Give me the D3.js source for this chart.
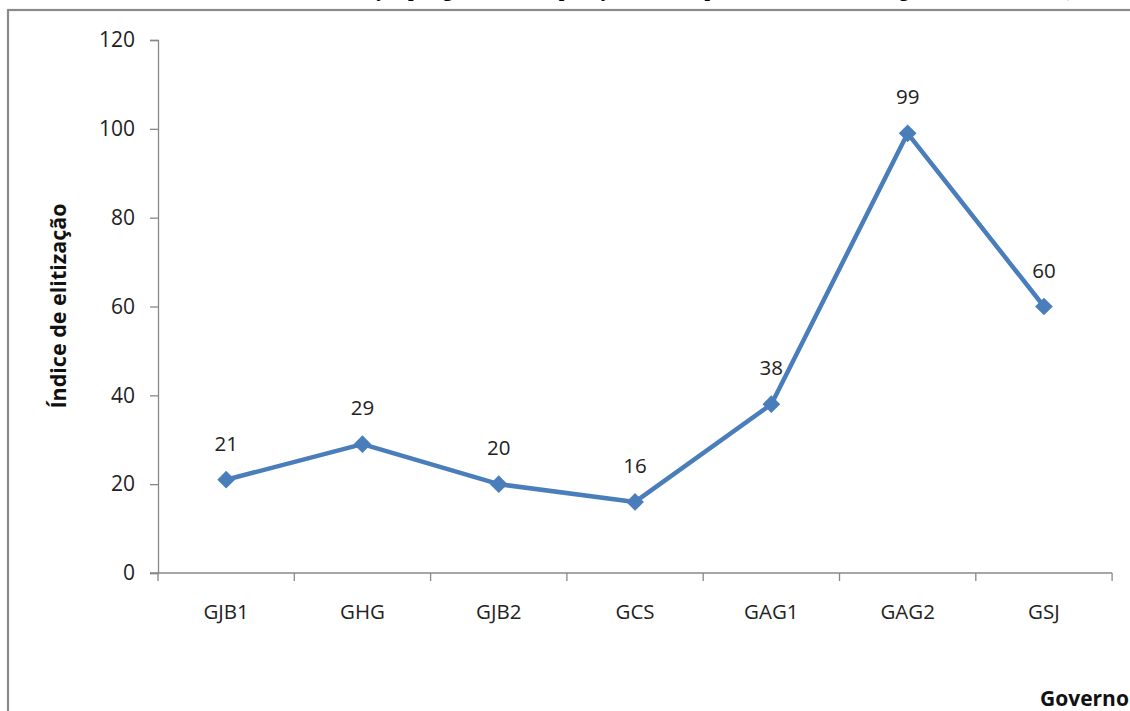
<!DOCTYPE html>
<html><head><meta charset="utf-8">
<script src="https://cdn.jsdelivr.net/npm/d3@7/dist/d3.min.js"></script>
<style>body{margin:0;background:#fff;overflow:hidden}svg{display:block}</style>
</head><body>
<script>
const categories = ["GJB1","GHG","GJB2","GCS","GAG1","GAG2","GSJ"];
const values = [21,29,20,16,38,99,60];
const yTicks = [0,20,40,60,80,100,120];
const titleText = "Gráfico 1 – Elitização por governo: comparação entre os primeiros escalões dos governos da Bahia (1991-2010)";
const yTitle = "Índice de elitização";
const xTitle = "Governo";

const W = 1130, H = 711;
const svg = d3.select("body").append("svg").attr("width", W).attr("height", H);
const font = "'Open Sans', 'Noto Sans', sans-serif";

// clipped title (only descenders visible, as in the reference)
svg.append("text").attr("x", 690).attr("y", -4).attr("text-anchor","middle")
  .attr("font-family","'Liberation Serif', serif").attr("font-weight","bold")
  .attr("font-size", 20).attr("fill","#000").text(titleText);

// outer border
svg.append("rect").attr("x", 8).attr("y", 10).attr("width", W + 10).attr("height", H + 10)
  .attr("fill","none").attr("stroke","#8a8a8a").attr("stroke-width", 2.2);

const x0 = 158, x1 = 158 + 7*136.3, yTop = 40, yBot = 573;
const x = d3.scaleBand().domain(categories).range([x0, x1]).padding(0);
const y = d3.scaleLinear().domain([0,120]).range([yBot, yTop]);

// y axis
const yAxis = svg.append("g").attr("transform", `translate(${x0},0)`)
  .call(d3.axisLeft(y).tickValues(yTicks).tickSize(8).tickPadding(15));
yAxis.select(".domain").attr("stroke","#888").attr("stroke-width",1.3);
yAxis.selectAll(".tick line").attr("stroke","#888").attr("stroke-width",1.3);
yAxis.selectAll("text").attr("font-family", font).attr("font-size", 21).attr("fill","#222");

// x axis
const xAxis = svg.append("g").attr("transform", `translate(0,${yBot})`)
  .call(d3.axisBottom(x).tickSize(0).tickPadding(31));
xAxis.select(".domain").attr("stroke","#888").attr("stroke-width",1.3).attr("d", `M${x0-8},0H${x1}`);
xAxis.selectAll("text").attr("font-family", font).attr("font-size", 20.5).attr("fill","#222");
// boundary ticks
svg.append("g").selectAll("line").data(categories.concat(["_end"])).join("line")
  .attr("x1", (d,i) => x0 + i*x.bandwidth()).attr("x2", (d,i) => x0 + i*x.bandwidth())
  .attr("y1", yBot).attr("y2", yBot + 8).attr("stroke","#888").attr("stroke-width",1.3);

// axis titles
svg.append("text").attr("transform", `translate(66,306) rotate(-90)`).attr("text-anchor","middle")
  .attr("font-family", font).attr("font-weight","bold").attr("font-size", 21.5).attr("fill","#111").text(yTitle);
svg.append("text").attr("x", 1040).attr("y", 706).attr("font-family", font).attr("font-weight","bold")
  .attr("font-size", 21).attr("fill","#111").text(xTitle);

// line
const cx = d => x(d) + x.bandwidth()/2;
const line = d3.line().x((d,i) => cx(categories[i])).y(d => y(d));
svg.append("path").datum(values).attr("d", line).attr("fill","none")
  .attr("stroke","#4a7ebb").attr("stroke-width",4.5).attr("stroke-linejoin","round");

// markers
svg.append("g").selectAll("path").data(values).join("path")
  .attr("d", d3.symbol().type(d3.symbolDiamond2).size(200))
  .attr("transform", (d,i) => `translate(${cx(categories[i])},${y(d)})`)
  .attr("fill","#4a7ebb");

// data labels
svg.append("g").selectAll("text").data(values).join("text")
  .attr("x", (d,i) => cx(categories[i])).attr("y", d => y(d) - 29)
  .attr("text-anchor","middle").attr("font-family", font).attr("font-size", 20.5).attr("fill","#222")
  .text(d => d);
</script>
</body></html>
